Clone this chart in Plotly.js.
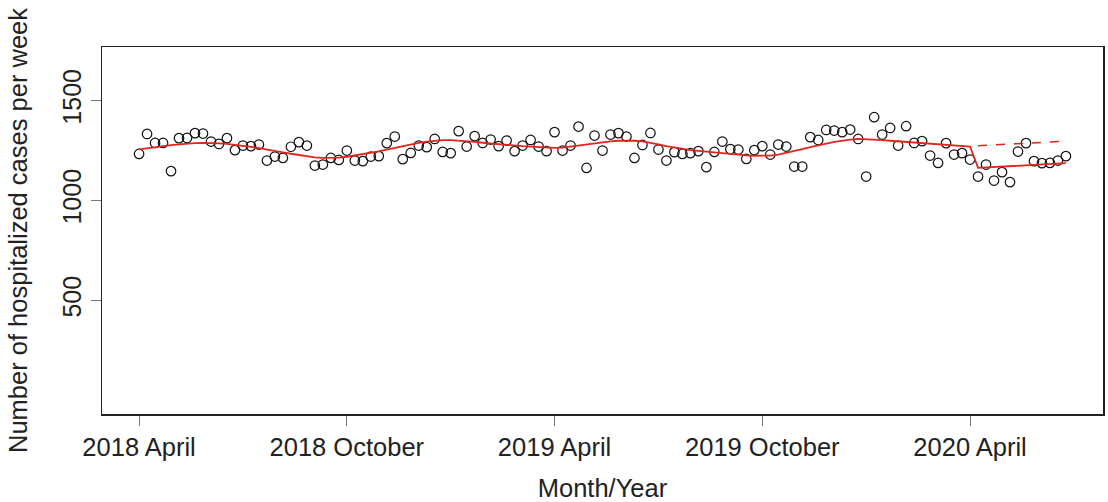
<!DOCTYPE html>
<html>
<head>
<meta charset="utf-8">
<script src="https://cdn.plot.ly/plotly-3.0.1.min.js"></script>
<style>html,body{margin:0;padding:0;background:#fff;}#chart{width:1108px;height:502px;}</style>
</head>
<body>
<div id="chart"></div>
<script>
// Weekly hospitalized cases (week 1 = start of April 2018)
const cases = [
 1233,1333,1288,1288,1147,1312,1313,1337,1335,1295,
 1283,1312,1252,1275,1272,1280,1200,1220,1213,1269,
 1292,1275,1175,1180,1213,1203,1250,1200,1197,1220,
 1222,1287,1320,1207,1238,1275,1267,1308,1243,1237,
 1347,1270,1322,1288,1305,1272,1300,1247,1275,1303,
 1270,1247,1342,1250,1275,1370,1163,1325,1250,1330,
 1337,1320,1213,1278,1338,1255,1200,1242,1233,1237,
 1247,1167,1243,1295,1257,1255,1208,1252,1272,1230,
 1280,1270,1170,1170,1317,1303,1353,1350,1342,1355,
 1308,1120,1417,1330,1363,1275,1372,1288,1297,1225,
 1188,1287,1230,1237,1205,1120,1180,1100,1142,1092,
 1245,1287,1197,1187,1188,1200,1222
];
// Fitted model (solid red)
const fitted = [
 1256,1262,1267,1272,1277,1281,1285,1287,1288,1288,
 1286,1283,1279,1274,1268,1262,1256,1249,1241,1234,
 1227,1221,1216,1213,1213,1215,1219,1225,1231,1239,
 1246,1254,1263,1271,1280,1288,1295,1300,1302,1302,
 1300,1297,1293,1289,1285,1281,1278,1275,1272,1270,
 1267,1264,1263,1265,1270,1277,1283,1288,1292,1296,
 1299,1300,1299,1296,1290,1281,1272,1265,1258,1252,
 1248,1244,1240,1236,1232,1229,1226,1224,1223,1225,
 1230,1238,1247,1257,1267,1277,1285,1293,1300,1305,
 1308,1307,1305,1302,1299,1296,1293,1290,1286,1282,
 1279,1276,1274,1272,1270,1163,1165,1167,1169,1171,
 1174,1177,1179,1181,1183,1185,1187
];
// Counterfactual (dashed red), weeks 106..117
const counterfactual = [1274,1276,1279,1281,1283,1285,1287,1289,1291,1293,1295,1297];
const cfStartWeek = 106;
const tickWeeks = [1, 27, 53, 79, 105];
const tickLabels = ["2018 April", "2018 October", "2019 April", "2019 October", "2020 April"];
const yTicks = [500, 1000, 1500];

const weeks = cases.map((_, i) => i + 1);
const cfWeeks = counterfactual.map((_, i) => cfStartWeek + i);

const font = "Liberation Sans, Arial, sans-serif";
const traces = [
  {x: weeks, y: cases, type: "scatter", mode: "markers",
   marker: {symbol: "circle-open", size: 9.5, color: "#111", line: {width: 1.2, color: "#111"}}},
  {x: weeks, y: fitted, type: "scatter", mode: "lines",
   line: {color: "#e3241b", width: 1.8}},
  {x: cfWeeks, y: counterfactual, type: "scatter", mode: "lines",
   line: {color: "#e3241b", width: 1.5, dash: "dash"}}
];
const layout = {
  width: 1108, height: 502,
  margin: {l: 102, r: 5, t: 47, b: 88},
  paper_bgcolor: "#fff", plot_bgcolor: "#fff",
  showlegend: false,
  font: {family: font, size: 22, color: "#222"},
  xaxis: {
    range: [-3.64, 121.64], showgrid: false, zeroline: false,
    tickvals: tickWeeks, ticktext: tickLabels,
    ticks: "outside", ticklen: 10, tickcolor: "#777", tickwidth: 1,
    showline: true, mirror: true, linecolor: "#222", linewidth: 1.5,
    tickfont: {family: font, size: 25.5, color: "#222"},
    title: {text: "Month/Year", font: {family: font, size: 25.5, color: "#222"}, standoff: 22}
  },
  yaxis: {
    range: [-68, 1768], showgrid: false, zeroline: false,
    tickvals: yTicks, ticktext: yTicks.map(String), tickangle: -90,
    ticks: "outside", ticklen: 10, tickcolor: "#777", tickwidth: 1,
    showline: true, mirror: true, linecolor: "#222", linewidth: 1.5,
    tickfont: {family: font, size: 25, color: "#222"},
    title: {text: "Number of hospitalized cases per week", font: {family: font, size: 25.5, color: "#222"}, standoff: 22}
  }
};
Plotly.newPlot("chart", traces, layout, {displayModeBar: false, staticPlot: true});
</script>
</body>
</html>
